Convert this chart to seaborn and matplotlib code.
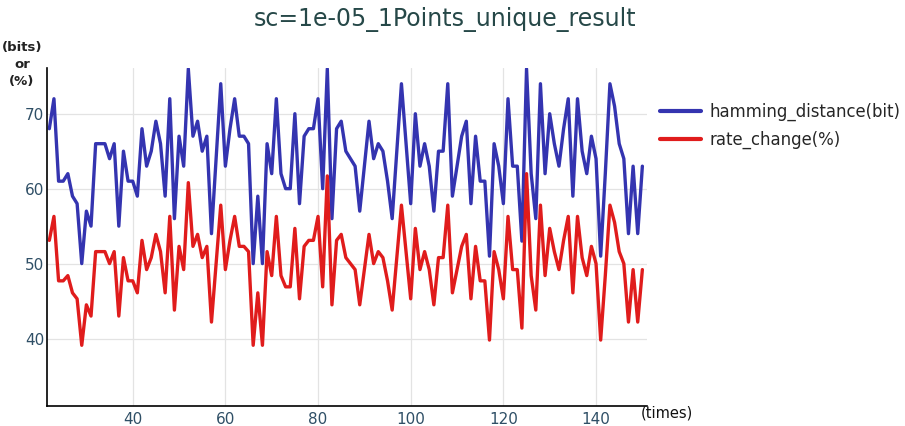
import numpy as np
import pandas as pd
import matplotlib
matplotlib.use("Agg")
import matplotlib.pyplot as plt
import seaborn as sns

# ---------------- data ----------------
times = list(range(22, 151))

hamming_distance = [
    68, 72, 61, 61, 62, 59, 58, 50, 57, 55,
    66, 66, 66, 64, 66, 55, 65, 61, 61, 59,
    68, 63, 65, 69, 66, 59, 72, 56, 67, 63,
    76, 67, 69, 65, 67, 54, 64, 74, 63, 68,
    72, 67, 67, 66, 50, 59, 50, 66, 62, 72,
    62, 60, 60, 70, 58, 67, 68, 68, 72, 60,
    76, 56, 68, 69, 65, 64, 63, 57, 63, 69,
    64, 66, 65, 61, 56, 65, 74, 66, 58, 70,
    63, 66, 63, 57, 65, 65, 74, 59, 63, 67,
    69, 58, 67, 61, 61, 51, 66, 63, 58, 72,
    63, 63, 53, 76, 62, 56, 74, 62, 70, 66,
    63, 68, 72, 59, 72, 65, 62, 67, 64, 51,
    62, 74, 71, 66, 64, 54, 63, 54, 63,
]

rate_change = [
    53.1, 56.3, 47.7, 47.7, 48.4, 46.1, 45.3, 39.1, 44.5, 43.0,
    51.6, 51.6, 51.6, 50.0, 51.6, 43.0, 50.8, 47.7, 47.7, 46.1,
    53.1, 49.2, 50.8, 53.9, 51.6, 46.1, 56.3, 43.8, 52.3, 49.2,
    60.8, 52.3, 53.9, 50.8, 52.3, 42.2, 50.0, 57.8, 49.2, 53.1,
    56.3, 52.3, 52.3, 51.6, 39.1, 46.1, 39.1, 51.6, 48.4, 56.3,
    48.4, 46.9, 46.9, 54.7, 45.3, 52.3, 53.1, 53.1, 56.3, 46.9,
    61.7, 44.5, 53.1, 53.9, 50.8, 50.0, 49.2, 44.5, 49.2, 53.9,
    50.0, 51.6, 50.8, 47.7, 43.8, 50.8, 57.8, 51.6, 45.3, 54.7,
    49.2, 51.6, 49.2, 44.5, 50.8, 50.8, 57.8, 46.1, 49.2, 52.3,
    53.9, 45.3, 52.3, 47.7, 47.7, 39.8, 51.6, 49.2, 45.3, 56.3,
    49.2, 49.2, 41.4, 62.0, 48.4, 43.8, 57.8, 48.4, 54.7, 51.6,
    49.2, 53.1, 56.3, 46.1, 56.3, 50.8, 48.4, 52.3, 50.0, 39.8,
    48.4, 57.8, 55.5, 51.6, 50.0, 42.2, 49.2, 42.2, 49.2,
]

series_names = ["hamming_distance(bit)", "rate_change(%)"]
series_colors = ["#3434b0", "#e01c1c"]
x_ticks = [40, 60, 80, 100, 120, 140]
y_ticks = [40, 50, 60, 70]
title = "sc=1e-05_1Points_unique_result"

df = pd.concat([
    pd.DataFrame({"times": times, "value": hamming_distance, "series": series_names[0]}),
    pd.DataFrame({"times": times, "value": rate_change, "series": series_names[1]}),
], ignore_index=True)

# ---------------- figure ----------------
sns.set_style("white")
plt.rcParams["font.family"] = ["DejaVu Sans"]

W, H = 905, 426
fig = plt.figure(figsize=(W / 100, H / 100), dpi=100)
ax = fig.add_axes([47 / W, 20 / H, 600 / W, 338 / H])

sns.lineplot(data=df, x="times", y="value", hue="series",
             hue_order=series_names, palette=series_colors,
             linewidth=2.4, ax=ax, legend=True)

ax.set_xlim(21.5, 151)
ax.set_ylim(31, 76.1)
ax.set_xticks(x_ticks)
ax.set_yticks(y_ticks)
ax.grid(True, color="#e3e3e3", linewidth=0.9)
ax.set_axisbelow(True)
ax.set_xlabel("")
ax.set_ylabel("")
for s in ["top", "right"]:
    ax.spines[s].set_visible(False)
for s in ["left", "bottom"]:
    ax.spines[s].set_color("black")
    ax.spines[s].set_linewidth(1.2)
tick_color = "#2f4f66"
ax.tick_params(axis="x", length=0, pad=4, labelsize=11, labelcolor=tick_color)
ax.tick_params(axis="y", length=0, pad=2, labelsize=11, labelcolor=tick_color)

handles, labels = ax.get_legend_handles_labels()
leg = ax.legend(handles, labels, loc="upper left",
                bbox_to_anchor=(660 / W, 1 - 103 / H), bbox_transform=fig.transFigure,
                frameon=False, fontsize=11.9, handlelength=2.5, handletextpad=0.5,
                labelspacing=0.6, borderpad=0, borderaxespad=0)
for line in leg.get_lines():
    line.set_linewidth(3)

fig.text(445 / W, 1 - 19 / H, title, ha="center", va="center",
         fontsize=17, color="#264848")
fig.text(22 / W, 1 - 47 / H, "(bits)", ha="center", va="center",
         fontsize=9.5, fontweight="bold", color="#222222")
fig.text(22 / W, 1 - 64 / H, "or", ha="center", va="center",
         fontsize=9.5, fontweight="bold", color="#222222")
fig.text(22 / W, 1 - 81 / H, "(%)", ha="center", va="center",
         fontsize=9.5, fontweight="bold", color="#222222")
fig.text(641 / W, 1 - 413 / H, "(times)", ha="left", va="center",
         fontsize=10.5, color="#111111")

fig.savefig("out.png", dpi=100)
